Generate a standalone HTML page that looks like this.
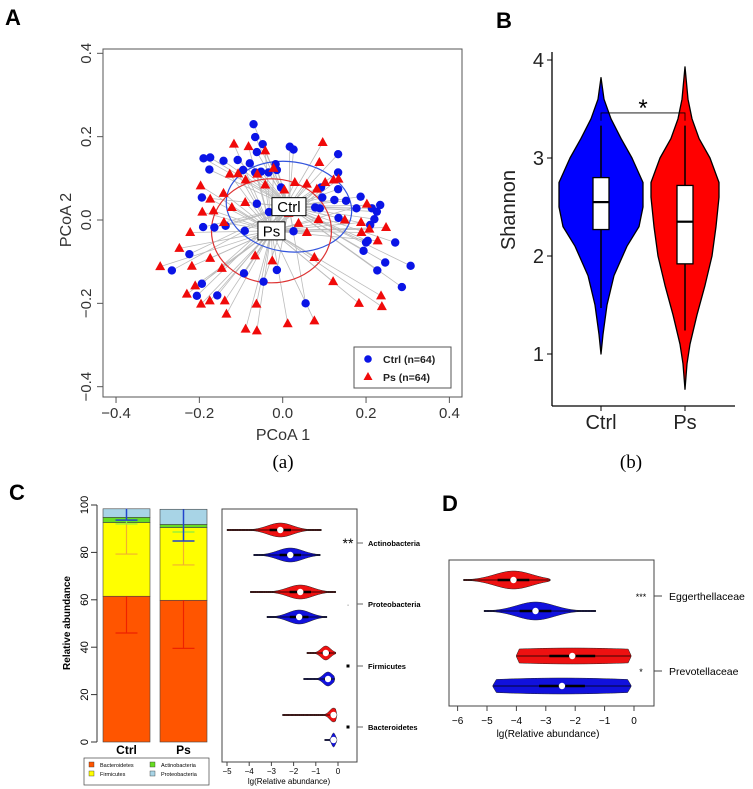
<!DOCTYPE html>
<html><head><meta charset="utf-8"><style>
html,body{margin:0;padding:0;background:#fff;}
svg{display:block;font-family:"Liberation Sans",Arial,sans-serif;}
</style></head><body>
<svg id="fig" width="753" height="789" viewBox="0 0 753 789" xmlns="http://www.w3.org/2000/svg">
<g id="pA"></g>
<g id="pB"></g>
<g id="pC"></g>
<g id="pD"></g>
</svg>
<script>
// ---------- Panel A data ----------
const ctrlX=[-0.070,-0.066,-0.048,-0.062,0.017,0.026,0.133,-0.190,-0.174,-0.142,-0.108,-0.176,-0.079,-0.095,-0.052,-0.034,-0.017,-0.014,-0.066,0.133,-0.004,0.092,0.133,0.187,0.095,0.124,0.152,0.177,0.214,0.234,0.226,0.220,0.210,-0.194,-0.062,-0.033,0.078,0.089,0.134,-0.191,-0.164,-0.137,-0.091,0.026,0.270,0.200,0.194,-0.224,-0.266,-0.093,-0.014,0.246,0.227,0.307,-0.194,-0.046,-0.206,-0.157,0.286,0.055,0.204];
const ctrlY=[0.230,0.199,0.182,0.163,0.176,0.169,0.158,0.148,0.150,0.142,0.144,0.121,0.136,0.120,0.116,0.114,0.134,0.120,0.114,0.114,0.078,0.078,0.074,0.056,0.054,0.048,0.046,0.028,0.028,0.036,0.020,0.002,-0.012,0.054,0.039,0.019,0.030,0.028,0.005,-0.017,-0.018,-0.014,-0.026,-0.027,-0.054,-0.054,-0.074,-0.082,-0.121,-0.128,-0.120,-0.102,-0.121,-0.110,-0.153,-0.148,-0.182,-0.181,-0.161,-0.200,-0.050];
const psX=[-0.117,-0.082,-0.042,0.096,0.088,-0.022,-0.127,-0.107,-0.061,-0.089,-0.042,0.029,0.058,0.004,0.082,0.102,0.122,0.134,-0.197,-0.174,-0.142,-0.193,-0.166,-0.122,-0.090,0.014,0.038,0.086,0.149,0.188,0.202,0.208,0.248,0.189,0.058,0.228,-0.222,-0.141,-0.248,-0.174,-0.218,-0.294,-0.146,-0.066,-0.025,0.076,-0.210,-0.230,-0.196,-0.175,-0.139,-0.135,-0.063,-0.089,-0.062,0.012,0.076,0.121,0.183,0.236,0.238];
const psY=[0.182,0.176,0.166,0.186,0.138,0.124,0.110,0.111,0.110,0.096,0.084,0.090,0.086,0.072,0.074,0.090,0.096,0.098,0.082,0.050,0.064,0.019,0.022,0.030,0.042,0.016,-0.008,0.001,0.000,-0.006,0.038,-0.022,-0.018,-0.030,-0.030,-0.050,-0.030,-0.006,-0.068,-0.092,-0.111,-0.112,-0.116,-0.086,-0.098,-0.090,-0.158,-0.178,-0.202,-0.194,-0.194,-0.226,-0.202,-0.262,-0.266,-0.249,-0.242,-0.148,-0.200,-0.182,-0.208];
const ctrlCentroid=[0.015,0.032], psCentroid=[-0.027,-0.026];
const axisTicksA=[-0.4,-0.2,0.0,0.2,0.4];
// ---------- Panel B data ----------
const shannonGroups=["Ctrl","Ps"];
const ctrlLevels=[1.0,1.2,1.5,1.8,2.1,2.3,2.5,2.75,3.0,3.2,3.4,3.6,3.82];
const ctrlWidths=[0,2,6,13,26,38,42,42,31,20,10,3,0];
const psLevels=[0.64,0.9,1.1,1.4,1.7,2.0,2.3,2.6,2.75,3.0,3.2,3.4,3.6,3.93];
const psWidths=[0,2,5,12,20,27,31,34,34,25,14,7,3,0];
const boxQ1=[2.27,1.92], boxMed=[2.55,2.35], boxQ3=[2.80,2.72], whLo=[1.47,1.24], whHi=[3.33,3.33];
const shannonTicks=[1,2,3,4];
// ---------- Panel C data ----------
const phyla=["Bacteroidetes","Firmicutes","Actinobacteria","Proteobacteria"];
const ctrlAbund=[61.5,31.1,2.2,3.6];
const psAbund=[59.8,30.7,1.3,6.4];
const ctrlErrLow=[46.0,79.3,92.0,93.6];
const psErrLow=[39.5,74.7,88.6,84.8];
const abundTicks=[0,20,40,60,80,100];
const violinPhyla=["Actinobacteria","Proteobacteria","Firmicutes","Bacteroidetes"];
const phylaSig=["**","·","sq","sq"];
const cRedMin=[-5.0,-3.95,-1.4,-2.5], cRedMax=[-0.75,-0.1,-0.1,-0.05], cRedMed=[-2.6,-1.7,-0.55,-0.2], cRedSpread=[0.8,0.8,0.3,0.25];
const cBlueMin=[-3.8,-3.2,-1.55,-0.6], cBlueMax=[-0.8,-0.5,-0.15,-0.05], cBlueMed=[-2.15,-1.75,-0.45,-0.2], cBlueSpread=[0.8,0.7,0.3,0.12];
const lgTicksC=[-5,-4,-3,-2,-1,0];
// ---------- Panel D data ----------
const families=["Eggerthellaceae","Prevotellaceae"];
const familySig=["***","*"];
const dRedMin=[-5.8,-4.0], dRedMax=[-2.85,-0.1], dRedMed=[-4.1,-2.1], dRedSpread=[0.9,5];
const dBlueMin=[-5.1,-4.8], dBlueMax=[-1.3,-0.1], dBlueMed=[-3.35,-2.45], dBlueSpread=[0.9,5];
const lgTicksD=[-6,-5,-4,-3,-2,-1,0];

const NS="http://www.w3.org/2000/svg";
function mk(parent,tag,attrs,text){const e=document.createElementNS(NS,tag);for(const k in attrs)e.setAttribute(k,attrs[k]);if(text!==undefined)e.textContent=text;parent.appendChild(e);return e;}

// ================= Panel A =================
(function(){
const g=document.getElementById('pA');
const sx=v=>282.7+v*416.7, sy=v=>220-v*416.7;
let t=mk(g,'text',{x:5,y:25,'font-size':22,'font-weight':'bold'},'A');


let r=mk(g,'rect',{x:103,y:49,width:359,height:348,fill:'none',stroke:'#555','stroke-width':1});


axisTicksA.forEach(v=>{
  let l=mk(g,'line',{x1:sx(v),x2:sx(v),y1:397,y2:403,stroke:'#555'});
  
  
  let tx=mk(g,'text',{x:sx(v),y:418,'font-size':15,'text-anchor':'middle',fill:'#333'},v.toFixed(1).replace('-','\u2212'));
  
  
  let l2=mk(g,'line',{x1:97,x2:103,y1:sy(v),y2:sy(v),stroke:'#555'});
  
  
  let ty=mk(g,'text',{x:0,y:0,'font-size':15,'text-anchor':'middle',fill:'#333',transform:`translate(91,${sy(v)}) rotate(-90)`},v.toFixed(1).replace('-','\u2212'));
  
  
});
t=mk(g,'text',{x:283,y:440,'font-size':16,'text-anchor':'middle',fill:'#333'},'PCoA 1');


t=mk(g,'text',{x:0,y:0,'font-size':16,'text-anchor':'middle',fill:'#333',transform:'translate(71,220) rotate(-90)'},'PCoA 2');


t=mk(g,'text',{x:283,y:468,'font-size':19,'text-anchor':'middle','font-family':'Liberation Serif,serif'},'(a)');


ctrlX.forEach((x,i)=>{let l=mk(g,'line',{x1:sx(ctrlCentroid[0]),y1:sy(ctrlCentroid[1]),x2:sx(x),y2:sy(ctrlY[i]),stroke:'#bbb','stroke-width':0.8});
  
  });
psX.forEach((x,i)=>{let l=mk(g,'line',{x1:sx(psCentroid[0]),y1:sy(psCentroid[1]),x2:sx(x),y2:sy(psY[i]),stroke:'#bbb','stroke-width':0.8});
  
  });
let e=mk(g,'ellipse',{cx:sx(ctrlCentroid[0]),cy:sy(ctrlCentroid[1]),rx:63,ry:45,fill:'none',stroke:'#3355dd','stroke-width':1.2,transform:`rotate(8 ${sx(ctrlCentroid[0])} ${sy(ctrlCentroid[1])})`});


e=mk(g,'ellipse',{cx:sx(psCentroid[0]),cy:sy(psCentroid[1]),rx:60,ry:52,fill:'none',stroke:'#dd3333','stroke-width':1.2});


ctrlX.forEach((x,i)=>{let c=mk(g,'circle',{cx:sx(x),cy:sy(ctrlY[i]),r:4.2,fill:'#0a14e6'});
  
  });
psX.forEach((x,i)=>{const px=sx(x),py=sy(psY[i]);let p=mk(g,'polygon',{points:`${px},${py-5.5} ${px-5},${py+3.5} ${px+5},${py+3.5}`,fill:'#f00a0a'});
  
  });
[[ctrlCentroid,'Ctrl',34],[psCentroid,'Ps',27]].forEach(([c,s,w])=>{
  const cx=sx(c[0]),cy=sy(c[1]);
  let b=mk(g,'rect',{x:cx-w/2,y:cy-9,width:w,height:18,fill:'#fff',stroke:'#000','stroke-width':1});
  
  
  let tt=mk(g,'text',{x:cx,y:cy+5.5,'font-size':15,'text-anchor':'middle'},s);
  
  
});
let lg=mk(g,'g',{});


mk(lg,'rect',{x:354,y:347,width:97,height:41,fill:'#fff',stroke:'#555'});
mk(lg,'circle',{cx:368,cy:359,r:3.8,fill:'#0a14e6'});
mk(lg,'polygon',{points:'368,372 363.5,380 372.5,380',fill:'#f00a0a'});
let le=mk(lg,'text',{x:383,y:363,'font-size':10.5,'font-weight':'bold',fill:'#222'},'Ctrl (n=64)');


le=mk(lg,'text',{x:383,y:381,'font-size':10.5,'font-weight':'bold',fill:'#222'},'Ps (n=64)');


})();

// ================= Panel B =================
(function(){
const g=document.getElementById('pB');
const sy=v=>354-(v-1)*98;
const gx=[601,685];
let t=mk(g,'text',{x:496,y:28,'font-size':22,'font-weight':'bold'},'B');


let a=mk(g,'line',{x1:552,y1:52,x2:552,y2:406,stroke:'#000','stroke-width':1.3});


a=mk(g,'line',{x1:552,y1:406,x2:735,y2:406,stroke:'#000','stroke-width':1.3});


shannonTicks.forEach(v=>{
  let l=mk(g,'line',{x1:547,x2:552,y1:sy(v),y2:sy(v),stroke:'#000'});
  
  
  let tx=mk(g,'text',{x:544,y:sy(v)+7,'font-size':20,'text-anchor':'end',fill:'#222'},String(v));
  
  
});
t=mk(g,'text',{x:0,y:0,'font-size':20,'text-anchor':'middle',fill:'#222',transform:'translate(515,210) rotate(-90)'},'Shannon');


const lv=[ctrlLevels,psLevels], wd=[ctrlWidths,psWidths], col=['#0000ff','#ff0000'];
shannonGroups.forEach((name,i)=>{
  const cx=gx[i];
  let l=mk(g,'line',{x1:cx,x2:cx,y1:406,y2:411,stroke:'#000'});
  
  
  let tx=mk(g,'text',{x:cx,y:429,'font-size':20,'text-anchor':'middle',fill:'#222'},name);
  
  
  const L=lv[i],W=wd[i];
  let d='M'+L.map((v,k)=>`${cx+W[k]},${sy(v)}`).join(' L')+' L'+L.map((v,k)=>`${cx-W[k]},${sy(v)}`).reverse().join(' L')+'Z';
  let p=mk(g,'path',{d:d,fill:col[i],stroke:'#000','stroke-width':1.3,'stroke-linejoin':'round'});
  
  
  let w=mk(g,'line',{x1:cx,x2:cx,y1:sy(whLo[i]),y2:sy(whHi[i]),stroke:'#000','stroke-width':1.5});
  
  
  let b=mk(g,'rect',{x:cx-8,y:sy(boxQ3[i]),width:16,height:sy(boxQ1[i])-sy(boxQ3[i]),fill:'#fff',stroke:'#000','stroke-width':1.3});
  
  
  let m=mk(g,'line',{x1:cx-8,x2:cx+8,y1:sy(boxMed[i]),y2:sy(boxMed[i]),stroke:'#000','stroke-width':2.2});
  
  
});
let s=mk(g,'path',{d:`M${gx[0]},${sy(3.38)} V${sy(3.46)} H${gx[1]} V${sy(3.38)}`,fill:'none',stroke:'#000','stroke-width':0.8});


t=mk(g,'text',{x:643,y:116,'font-size':24,'text-anchor':'middle'},'*');


t=mk(g,'text',{x:631,y:468,'font-size':19,'text-anchor':'middle','font-family':'Liberation Serif,serif'},'(b)');


})();

function hViolin(g,sx,yc,mn,mxv,med,hw,spread,fill,name){
  const n=40,top=[],bot=[];
  for(let k=0;k<=n;k++){const v=mn+(mxv-mn)*k/n;let w=hw*Math.exp(-Math.pow((v-med)/spread,2));w=Math.max(w,0.7);if(k===0||k===n)w=Math.min(w,0.7);top.push(`${sx(v)},${yc-w}`);bot.push(`${sx(v)},${yc+w}`);}
  let p=mk(g,'path',{d:'M'+top.join(' L')+' L'+bot.reverse().join(' L')+'Z',fill:fill,stroke:'#222','stroke-width':0.5});
  
  
  mk(g,'line',{x1:sx(mn),x2:sx(mxv),y1:yc,y2:yc,stroke:'#000','stroke-width':0.8});
  mk(g,'line',{x1:sx(Math.max(mn,med-Math.min(spread,1.3)*0.6)),x2:sx(Math.min(mxv,med+Math.min(spread,1.3)*0.6)),y1:yc,y2:yc,stroke:'#000','stroke-width':2.4});
  let c=mk(g,'circle',{cx:sx(med),cy:yc,r:3.2,fill:'#fff'});
  
  
}

// ================= Panel C =================
(function(){
const g=document.getElementById('pC');
const sy=v=>742-v*2.37;
let t=mk(g,'text',{x:9,y:500,'font-size':22,'font-weight':'bold'},'C');


let a=mk(g,'line',{x1:97,x2:97,y1:sy(0),y2:sy(100),stroke:'#333'});


abundTicks.forEach(v=>{
  let l=mk(g,'line',{x1:91,x2:97,y1:sy(v),y2:sy(v),stroke:'#333'});
  
  
  let tx=mk(g,'text',{x:0,y:0,'font-size':11,'text-anchor':'middle',transform:`translate(88,${sy(v)}) rotate(-90)`},String(v));
  
  
});
t=mk(g,'text',{x:0,y:0,'font-size':10,'font-weight':'bold','text-anchor':'middle',transform:'translate(70,623) rotate(-90)'},'Relative abundance');


const cols=['#ff5500','#ffff00','#66dd22','#a8d4e6'];
const errCols=['#ee2200','#f0b030','#88ee44','#2244cc'];
[[ctrlAbund,ctrlErrLow,103,'Ctrl'],[psAbund,psErrLow,160,'Ps']].forEach(([ab,er,x0,name])=>{
  let cum=0;
  ab.forEach((v,k)=>{
    let r=mk(g,'rect',{x:x0,y:sy(cum+v),width:47,height:v*2.37,fill:cols[k],stroke:'#444','stroke-width':0.6});
    
    
    cum+=v;
  });
  cum=0;
  ab.forEach((v,k)=>{
    cum+=v;
    const xc=x0+23.5;
    let l=mk(g,'path',{d:`M${xc},${sy(cum)} V${sy(er[k])} M${xc-11},${sy(er[k])} H${xc+11}`,stroke:errCols[k],'stroke-width':k===3?1.5:1.2,fill:'none'});
    
    
  });
  let tx=mk(g,'text',{x:x0+23.5,y:754,'font-size':12,'font-weight':'bold','text-anchor':'middle'},name);
  
  
});
let lg=mk(g,'g',{});


mk(lg,'rect',{x:84,y:758,width:125,height:27,fill:'#fff',stroke:'#444','stroke-width':0.7});
const lpos=[[89,767],[89,776],[150,767],[150,776]];
phyla.forEach((p,k)=>{
  mk(lg,'rect',{x:lpos[k][0],y:lpos[k][1]-5,width:5,height:5,fill:cols[k],stroke:'#333','stroke-width':0.4});
  let le=mk(lg,'text',{x:lpos[k][0]+11,y:lpos[k][1],'font-size':5.5},p);
  
  
});
const vx=v=>338+v*22.2;
let r=mk(g,'rect',{x:222,y:509,width:135,height:253,fill:'none',stroke:'#444'});


lgTicksC.forEach(v=>{
  mk(g,'line',{x1:vx(v),x2:vx(v),y1:762,y2:766,stroke:'#444'});
  let tx=mk(g,'text',{x:vx(v),y:774,'font-size':8,'text-anchor':'middle'},String(v).replace('-','\u2212'));
  
  
});
t=mk(g,'text',{x:289,y:784,'font-size':8,'text-anchor':'middle'},'lg(Relative abundance)');


const redY=[530,592,653,715], blueY=[555,617,679,740], labY=[543,604,666,727];
violinPhyla.forEach((p,k)=>{
  hViolin(g,vx,redY[k],cRedMin[k],cRedMax[k],cRedMed[k],7,cRedSpread[k],'#ee1111','violin-ps-'+p.toLowerCase());
  hViolin(g,vx,blueY[k],cBlueMin[k],cBlueMax[k],cBlueMed[k],7,cBlueSpread[k],'#1111dd','violin-ctrl-'+p.toLowerCase());
  mk(g,'line',{x1:357,x2:363,y1:labY[k],y2:labY[k],stroke:'#666'});
  let tx=mk(g,'text',{x:368,y:labY[k]+3,'font-size':7.5,'font-weight':'bold'},p);
  
  
  if(phylaSig[k]==='sq'){
    let s=mk(g,'rect',{x:346.5,y:labY[k]-1.5,width:3,height:3,fill:'#000'});
    
    
  } else {
    let s=mk(g,'text',{x:348,y:labY[k]+(k===0?5:3),'font-size':k===0?14:7,'text-anchor':'middle'},phylaSig[k]);
    
    
  }
});
})();

// ================= Panel D =================
(function(){
const g=document.getElementById('pD');
const vx=v=>634+v*29.4;
let t=mk(g,'text',{x:442,y:511,'font-size':22,'font-weight':'bold'},'D');


let r=mk(g,'rect',{x:449,y:560,width:205,height:146,fill:'none',stroke:'#444'});


lgTicksD.forEach(v=>{
  mk(g,'line',{x1:vx(v),x2:vx(v),y1:706,y2:711,stroke:'#444'});
  let tx=mk(g,'text',{x:vx(v),y:724,'font-size':10,'text-anchor':'middle'},String(v).replace('-','\u2212'));
  
  
});
t=mk(g,'text',{x:548,y:737,'font-size':10,'text-anchor':'middle'},'lg(Relative abundance)');


const redY=[580,656], blueY=[611,686], labY=[596,671];
families.forEach((f,k)=>{
  hViolin(g,vx,redY[k],dRedMin[k],dRedMax[k],dRedMed[k],k?8:9,dRedSpread[k],'#ee1111','violin-ps-'+f.toLowerCase());
  hViolin(g,vx,blueY[k],dBlueMin[k],dBlueMax[k],dBlueMed[k],k?8:9,dBlueSpread[k],'#1111dd','violin-ctrl-'+f.toLowerCase());
  mk(g,'line',{x1:654,x2:662,y1:labY[k],y2:labY[k],stroke:'#444'});
  let tx=mk(g,'text',{x:669,y:labY[k]+4,'font-size':10.5},f);
  
  
  let s=mk(g,'text',{x:641,y:labY[k]+4,'font-size':9,'text-anchor':'middle'},familySig[k]);
  
  
});
})();
</script>
</body></html>
